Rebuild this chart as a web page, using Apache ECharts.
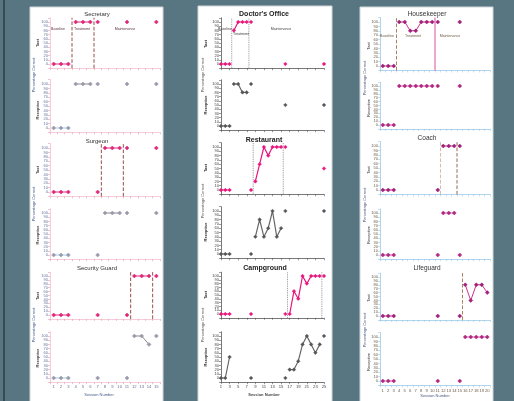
<!DOCTYPE html>
<html><head><meta charset="utf-8">
<script src="https://cdn.jsdelivr.net/npm/echarts@6/dist/echarts.min.js"></script>
<style>html,body{margin:0;padding:0;background:#587682;}#c{width:514px;height:401px;}</style>
</head><body><div id="c"></div>
<script>
// ---------- DATA ----------
const col1Sessions = ['1','2','3','4','5','6','7','8','9','10','11','12','13','14','15'];
const col2Sessions = ['1','2','3','4','5','6','7','8','9','10','11','12','13','14','15','16','17','18','19','20','21','22','23','24','25'];
const col3Sessions = ['1','2','3','4','5','6','7','8','9','10','11','12','13','14','15','16','17','18','19','20'];
const yTicks = [0,10,20,30,40,50,60,70,80,90,100];
const phaseNames = ['Baseline','Treatment','Maintenance'];

const secretaryTact      = [0,0,0,100,100,100,100,null,null,null,100,null,null,null,100];
const secretaryReceptive = [0,0,0,100,100,100,100,null,null,null,100,null,null,null,100];
const secretaryPhaseAfter = [3,6];
const surgeonTact        = [0,0,0,null,null,null,0,100,100,100,100,null,null,null,100];
const surgeonReceptive   = [0,0,0,null,null,null,0,100,100,100,100,null,null,null,100];
const surgeonPhaseAfter  = [7,10];
const securityTact       = [0,0,0,null,null,null,0,null,null,null,0,100,100,100,100];
const securityReceptive  = [0,0,0,null,null,null,0,null,null,null,0,100,100,80,100];
const securityPhaseAfter = [11,14];

const doctorTact        = [0,0,0,80,100,100,100,100,null,null,null,null,null,null,null,0,null,null,null,null,null,null,null,null,0];
const doctorReceptive   = [0,0,0,100,100,80,80,100,null,null,null,null,null,null,null,50,null,null,null,null,null,null,null,null,50];
const doctorPhaseAfter  = [3,7];
const restaurantTact      = [0,0,0,null,null,null,null,0,20,60,100,80,100,100,100,100,null,null,null,null,null,null,null,null,50];
const restaurantReceptive = [0,0,0,null,null,null,null,0,40,80,40,60,100,40,60,100,null,null,null,null,null,null,null,null,100];
const restaurantPhaseAfter = [8,15];
const campgroundTact      = [0,0,0,null,null,null,null,0,null,null,null,null,null,null,null,0,0,60,40,100,80,100,100,100,100];
const campgroundReceptive = [0,0,50,null,null,null,null,0,null,null,null,null,null,null,null,0,20,20,40,80,100,80,60,80,100];
const campgroundPhaseAfter = [16,24];

const housekeeperTact      = [0,0,0,100,100,80,80,100,100,100,100,null,null,null,100,null,null,null,null,null];
const housekeeperReceptive = [0,0,0,100,100,100,100,100,100,100,100,null,null,null,100,null,null,null,null,null];
const housekeeperPhaseAfter = [3,10];
const coachTact      = [0,0,0,null,null,null,null,null,null,null,0,100,100,100,100,null,null,null,null,null];
const coachReceptive = [0,0,0,null,null,null,null,null,null,null,0,100,100,100,0,null,null,null,null,null];
const coachPhaseAfter = [11,14];
const lifeguardTact      = [0,0,0,null,null,null,null,null,null,null,0,null,null,null,0,80,40,80,80,60];
const lifeguardReceptive = [0,0,0,null,null,null,null,null,null,null,0,null,null,null,0,100,100,100,100,100];
const lifeguardPhaseAfter = [15];

// ---------- STYLES ----------
const FONT = 'Liberation Sans';
const colStyle = [
  {axis:'#f2bfd0', tick:'#e897b4', label:'#62739a', gap:true, labelInterval:0,
   topLine:'#e0287a', topSym:'#e0287a', botLine:'#8a8a8a', botSym:'#9a9aaa', botBase:'#9ccbe8', sym:'diamond',
   phase:['#8b3a3a','#8b3a3a'], phaseType:['dashed','dashed']},
  {axis:'#555', tick:'#555', label:'#444', gap:false, labelInterval:1,
   topLine:'#e8157c', topSym:'#e8157c', botLine:'#666', botSym:'#555', botBase:'#666', sym:'diamond',
   phase:['#888','#888'], phaseType:['dotted','dotted']},
  {axis:'#9cc8ea', tick:'#9cc8ea', label:'#6d5a45', gap:true, labelInterval:0,
   topLine:'#d0308a', topSym:'#a0207a', botLine:'#e060a8', botSym:'#b02880', botBase:'#e060a8', sym:'diamond',
   phase:['#a07050','#a07050'], phaseType:['dashed','dashed']}
];

const grids=[], xAxes=[], yAxes=[], series=[], graphics=[];

function segments(values, phaseAfter){
  const segs=[]; let cur=[];
  values.forEach((v,i)=>{
    const s=i+1;
    if(v==null){ if(cur.length) segs.push(cur); cur=[]; return; }
    if(cur.length && phaseAfter.includes(s-1)){ segs.push(cur); cur=[]; }
    cur.push([s,v]);
  });
  if(cur.length) segs.push(cur);
  return segs;
}

function addPanel(p){
  const st = colStyle[p.col];
  const gi = grids.length;
  const u = (p.y0 - p.y100)/100;
  const N = p.cats.length;
  grids.push({left:p.left, top:p.y100-10*u, width:p.width, height:120*u, containLabel:false, outerBoundsMode:'none'});
  xAxes.push({type:'category', gridIndex:gi, data:p.cats, boundaryGap:st.gap,
    axisLine:{onZero:false, lineStyle:{color:st.axis, width:0.8}},
    axisTick:{show:true, length:2, lineStyle:{color:st.tick, width:0.6}},
    axisLabel:{show:!!p.xlabels, interval:st.labelInterval, fontSize:4.2, color:st.label, margin:3, fontFamily:FONT},
    splitLine:{show:false}});
  xAxes.push({type:'value', gridIndex:gi, show:false, min:st.gap?0.5:1, max:st.gap?N+0.5:N});
  yAxes.push({type:'value', gridIndex:gi, min:-10, max:110, interval:10,
    axisLine:{show:true, onZero:false, lineStyle:{color:st.axis, width:0.8}},
    axisTick:{show:true, length:2, lineStyle:{color:st.tick, width:0.6}},
    axisLabel:{fontSize:4, color:st.label, margin:2, fontFamily:FONT,
      formatter:v=> yTicks.includes(v) ? String(v) : ''},
    splitLine:{show:false}});
  const xi = 2*gi+1;
  // phase lines (top panels only)
  if (p.top) p.phaseAfter.forEach((pa,k)=>{
    const col = (p.phaseColors && p.phaseColors[k]) || st.phase[k];
    const typ = (p.phaseTypes && p.phaseTypes[k]) || st.phaseType[k];
    series.push({type:'line', xAxisIndex:xi, yAxisIndex:gi, data:[[pa+0.5,-10],[pa+0.5,110]],
      symbol:'none', silent:true, z:1, clip:false,
      lineStyle:{color:col, width:typ==='solid'?1.1:0.9, type:typ}});
  });
  const segs = segments(p.values, p.phaseAfter);
  segs.forEach((seg,k)=>{
    const lineCol = p.top ? st.topLine : (k===0 ? st.botBase : st.botLine);
    const symCol = p.top ? st.topSym : st.botSym;
    series.push({type:'line', xAxisIndex:xi, yAxisIndex:gi, data:seg, z:3,
      symbol:st.sym, symbolSize:p.col===1?3.6:4, showSymbol:true,
      lineStyle:{color:lineCol, width:p.col===1?1.2:1},
      itemStyle:{color:symCol, borderColor:symCol, borderWidth:0.5}});
  });
}

function txt(t, x, y, opts){
  opts = opts||{};
  graphics.push({type:'text', x:x, y:y, rotation:opts.rot||0, z:50,
    style:{text:t, fontSize:opts.size||4, fontWeight:opts.bold?'bold':'normal', fontFamily:FONT,
      fill:opts.color||'#333', align:'center', verticalAlign:'middle', textAlign:'center', textVerticalAlign:'middle'}});
}

// ---------- PANELS ----------
const C1 = {left:50, width:110, cats:col1Sessions, col:0};
const C2 = {left:221, width:103, cats:col2Sessions, col:1};
const C3 = {left:380, width:110, cats:col3Sessions, col:2};

addPanel({...C1, top:true,  y100:22,  y0:64,  values:secretaryTact, phaseAfter:secretaryPhaseAfter});
addPanel({...C1, top:false, y100:84,  y0:128, values:secretaryReceptive, phaseAfter:secretaryPhaseAfter});
addPanel({...C1, top:true,  y100:148, y0:192, values:surgeonTact, phaseAfter:surgeonPhaseAfter});
addPanel({...C1, top:false, y100:213, y0:255, values:surgeonReceptive, phaseAfter:surgeonPhaseAfter});
addPanel({...C1, top:true,  y100:276, y0:315, values:securityTact, phaseAfter:securityPhaseAfter});
addPanel({...C1, top:false, y100:336, y0:378, values:securityReceptive, phaseAfter:securityPhaseAfter, xlabels:true});

addPanel({...C2, top:true,  y100:22,  y0:64,  values:doctorTact, phaseAfter:doctorPhaseAfter});
addPanel({...C2, top:false, y100:84,  y0:126, values:doctorReceptive, phaseAfter:doctorPhaseAfter});
addPanel({...C2, top:true,  y100:147, y0:190, values:restaurantTact, phaseAfter:restaurantPhaseAfter});
addPanel({...C2, top:false, y100:211, y0:254, values:restaurantReceptive, phaseAfter:restaurantPhaseAfter});
addPanel({...C2, top:true,  y100:276, y0:314, values:campgroundTact, phaseAfter:campgroundPhaseAfter});
addPanel({...C2, top:false, y100:336, y0:378, values:campgroundReceptive, phaseAfter:campgroundPhaseAfter, xlabels:true});

addPanel({...C3, top:true,  y100:22,  y0:66,  values:housekeeperTact, phaseAfter:housekeeperPhaseAfter,
  phaseColors:['#a07050','#e060a8'], phaseTypes:['dashed','solid']});
addPanel({...C3, top:false, y100:86,  y0:125, values:housekeeperReceptive, phaseAfter:housekeeperPhaseAfter});
addPanel({...C3, top:true,  y100:146, y0:190, values:coachTact, phaseAfter:coachPhaseAfter,
  phaseColors:['#cdb89a','#8b5a40']});
addPanel({...C3, top:false, y100:213, y0:255, values:coachReceptive, phaseAfter:coachPhaseAfter});
addPanel({...C3, top:true,  y100:277, y0:316, values:lifeguardTact, phaseAfter:lifeguardPhaseAfter});
addPanel({...C3, top:false, y100:337, y0:381, values:lifeguardReceptive, phaseAfter:lifeguardPhaseAfter, xlabels:true});

// ---------- BACKGROUND PANELS ----------
graphics.push({type:'rect', z:-100, shape:{x:3, y:0, width:2, height:401}, style:{fill:'#3b4a52'}});
graphics.push({type:'rect', z:-100, shape:{x:30, y:7, width:133, height:400}, style:{fill:'#fff', stroke:'#cfd6da', lineWidth:1}});
graphics.push({type:'rect', z:-100, shape:{x:198, y:6, width:134, height:400}, style:{fill:'#fff', stroke:'#cfd6da', lineWidth:1}});
graphics.push({type:'rect', z:-100, shape:{x:360, y:7, width:133, height:400}, style:{fill:'#fff', stroke:'#cfd6da', lineWidth:1}});

// ---------- TEXTS ----------
// column 1
txt('Secretary', 97, 14, {size:6, color:'#333'});
txt('Surgeon', 97, 141, {size:6, color:'#333'});
txt('Security Guard', 97, 268, {size:6, color:'#333'});
[[43,110,75],[170,235,204],[296,358,325]].forEach(([a,b,c])=>{
  txt('Tact', 37.5, a, {rot:Math.PI/2, bold:true, color:'#333'});
  txt('Receptive', 37.5, b, {rot:Math.PI/2, bold:true, color:'#333'});
  txt('Percentage Correct', 34, c, {rot:Math.PI/2, color:'#445a8a'});
});
txt(phaseNames[0], 58, 29, {size:3.6, color:'#5a3040'});
txt(phaseNames[1], 82, 29, {size:3.6, color:'#5a3040'});
txt(phaseNames[2], 125, 29, {size:3.6, color:'#5a3040'});
txt('Session Number', 99, 395, {size:4, color:'#445a8a'});
// column 2
txt("Doctor's Office", 264, 14, {size:7, bold:true, color:'#222'});
txt('Restaurant', 264, 140, {size:7, bold:true, color:'#222'});
txt('Campground', 265, 268, {size:7, bold:true, color:'#222'});
[[44,105,75],[168,232,201],[295,357,325]].forEach(([a,b,c])=>{
  txt('Tact', 206, a, {rot:Math.PI/2, bold:true, color:'#222'});
  txt('Receptive', 206, b, {rot:Math.PI/2, bold:true, color:'#222'});
  txt('Percentage Correct', 202.5, c, {rot:Math.PI/2, color:'#555'});
});
txt(phaseNames[0], 225, 29, {size:3.6, color:'#444'});
txt(phaseNames[1], 241, 34, {size:3.6, color:'#444'});
txt(phaseNames[2], 281, 29, {size:3.6, color:'#444'});
txt('Session Number', 264, 395, {size:4, color:'#444', bold:true});
// column 3
txt('Housekeeper', 427, 14, {size:6.5, color:'#333'});
txt('Coach', 427, 138, {size:6.5, color:'#333'});
txt('Lifeguard', 427, 268, {size:6.5, color:'#333'});
[[46,108,78],[170,235,205],[298,362,330]].forEach(([a,b,c])=>{
  txt('Tact', 369, a, {rot:Math.PI/2, color:'#333'});
  txt('Receptive', 369, b, {rot:Math.PI/2, color:'#333'});
  txt('Percentage Correct', 364.5, c, {rot:Math.PI/2, color:'#4a5a80'});
});
txt(phaseNames[0], 387, 36, {size:3.6, color:'#6d5a45'});
txt(phaseNames[1], 413, 36, {size:3.6, color:'#6d5a45'});
txt(phaseNames[2], 450, 36, {size:3.6, color:'#6d5a45'});
txt('Session Number', 435, 396, {size:4, color:'#4a5a80'});

const chart = echarts.init(document.getElementById('c'));
chart.setOption({
  backgroundColor:'#587682',
  animation:false,
  grid:grids, xAxis:xAxes, yAxis:yAxes, series:series, graphic:graphics
});
</script>
</body></html>
